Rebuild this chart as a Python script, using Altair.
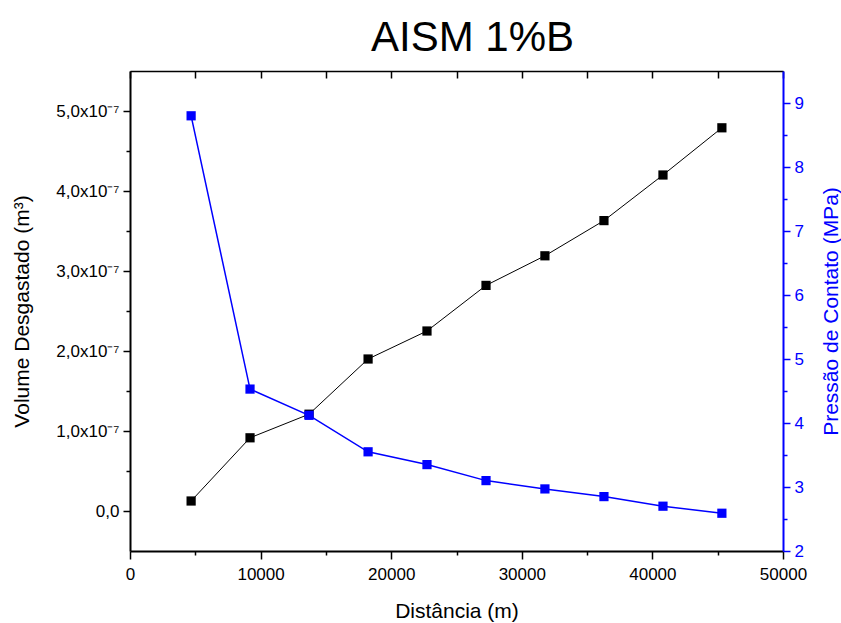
import altair as alt
import pandas as pd

# Data
distancia = [4680, 9190, 13710, 18230, 22740, 27260, 31770, 36290, 40810, 45320]
volume = [0.125e-7, 0.915e-7, 1.21e-7, 1.90e-7, 2.25e-7, 2.82e-7, 3.19e-7, 3.63e-7, 4.20e-7, 4.79e-7]
pressao = [8.80, 4.53, 4.12, 3.55, 3.35, 3.10, 2.97, 2.85, 2.70, 2.59]

x_ticks = [0, 5000, 10000, 15000, 20000, 25000, 30000, 35000, 40000, 45000, 50000]
y_left_ticks = [0.0, 0.5e-7, 1e-7, 1.5e-7, 2e-7, 2.5e-7, 3e-7, 3.5e-7, 4e-7, 4.5e-7, 5e-7]
y_right_ticks = [2, 2.5, 3, 3.5, 4, 4.5, 5, 5.5, 6, 6.5, 7, 7.5, 8, 8.5, 9]

df = pd.DataFrame({"dist": distancia, "vol": volume, "pres": pressao})

FONT = "Liberation Sans"
BLUE = "#0000FF"
LBL = 17
TTL = 21

x_scale = alt.Scale(domain=[0, 50000], nice=False, zero=False)
yl_scale = alt.Scale(domain=[-0.5e-7, 5.5e-7], nice=False, zero=False)
yr_scale = alt.Scale(domain=[2, 9.5], nice=False, zero=False)

x_axis_bottom = alt.Axis(
    orient="bottom", values=x_ticks, title="Distância (m)",
    labelExpr="datum.value % 10000 === 0 ? format(datum.value, 'd') : ''",
    tickSize={"condition": {"test": "datum.value % 10000 === 0", "value": 8}, "value": 4},
    tickColor="black", tickWidth=1.5, domainColor="black", domainWidth=2,
    labelFont=FONT, labelFontSize=LBL, labelColor="black", labelPadding=7,
    labelFlush=False, labelOverlap=False,
    titleFont=FONT, titleFontSize=TTL, titleFontWeight="normal", titleColor="black",
    titleY=66, titleBaseline="alphabetic", grid=False,
)

x_axis_top = alt.Axis(
    orient="bottom", offset=-480, values=x_ticks, title=None, labels=False,
    tickSize=7, tickColor="black", tickWidth=1.5, domainColor="black",
    domainWidth=1.5, grid=False,
)

y_left_axis = alt.Axis(
    orient="left", values=y_left_ticks, title="Volume Desgastado (m³)",
    labelExpr=(
        "abs(datum.value*1e7 - round(datum.value*1e7)) < 0.001 ? "
        "(abs(datum.value) < 1e-12 ? '0,0' : replace(format(datum.value*1e7, '.1f'), '.', ',') + 'x10⁻⁷') : ''"
    ),
    tickSize={"condition": {"test": "abs(datum.value*1e7 - round(datum.value*1e7)) < 0.001", "value": 7}, "value": 4},
    tickColor="black", tickWidth=1.5, domainColor="black", domainWidth=2,
    labelFont=FONT, labelFontSize=LBL, labelColor="black", labelPadding=4,
    labelFlush=False, labelOverlap=False,
    titleFont=FONT, titleFontSize=TTL, titleFontWeight="normal", titleColor="black",
    titleAngle=270, titleX=-108, titleY=240, titleBaseline="middle", titleAlign="center",
    grid=False,
)

y_right_axis = alt.Axis(
    orient="right", values=y_right_ticks, title="Pressão de Contato (MPa)",
    labelExpr="datum.value % 1 === 0 ? format(datum.value, 'd') : ''",
    tickSize={"condition": {"test": "datum.value % 1 === 0", "value": 7}, "value": 4},
    tickColor=BLUE, tickWidth=1.5, domainColor=BLUE, domainWidth=2,
    labelFont=FONT, labelFontSize=LBL, labelColor=BLUE, labelPadding=4,
    labelFlush=False, labelOverlap=False,
    titleFont=FONT, titleFontSize=TTL, titleFontWeight="normal", titleColor=BLUE,
    titleAngle=270, titleX=48, titleY=240, titleBaseline="middle", titleAlign="center",
    grid=False,
)

base = alt.Chart(df)

black_line = base.mark_line(color="black", strokeWidth=1).encode(
    x=alt.X("dist:Q", scale=x_scale, axis=x_axis_bottom),
    y=alt.Y("vol:Q", scale=yl_scale, axis=y_left_axis),
)
black_pts = base.mark_point(shape="square", filled=True, color="black", size=85, opacity=1).encode(
    x=alt.X("dist:Q", scale=x_scale, axis=x_axis_bottom),
    y=alt.Y("vol:Q", scale=yl_scale, axis=y_left_axis),
)

blue_line = base.mark_line(color=BLUE, strokeWidth=1.5).encode(
    x=alt.X("dist:Q", scale=x_scale, axis=x_axis_top),
    y=alt.Y("pres:Q", scale=yr_scale, axis=y_right_axis),
)
blue_pts = base.mark_point(shape="square", filled=True, color=BLUE, size=85, opacity=1).encode(
    x=alt.X("dist:Q", scale=x_scale, axis=x_axis_top),
    y=alt.Y("pres:Q", scale=yr_scale, axis=y_right_axis),
)

left = alt.layer(black_line, black_pts)
right = alt.layer(blue_line, blue_pts)

chart = alt.layer(left, right).resolve_scale(
    y="independent"
).resolve_axis(
    x="independent", y="independent"
).properties(
    width=653,
    height=480,
    title=alt.TitleParams("AISM 1%B", font=FONT, fontSize=42, fontWeight="normal",
                          color="black", anchor="middle", dx=16, dy=-6),
    padding={"left": 130, "top": 71, "right": 58, "bottom": 72},
    autosize=alt.AutoSizeParams(type="none"),
).configure_view(
    stroke="black", strokeWidth=1.5
).configure(background="white")

chart.save("out.html", embed_options={"renderer": "svg", "actions": False})
